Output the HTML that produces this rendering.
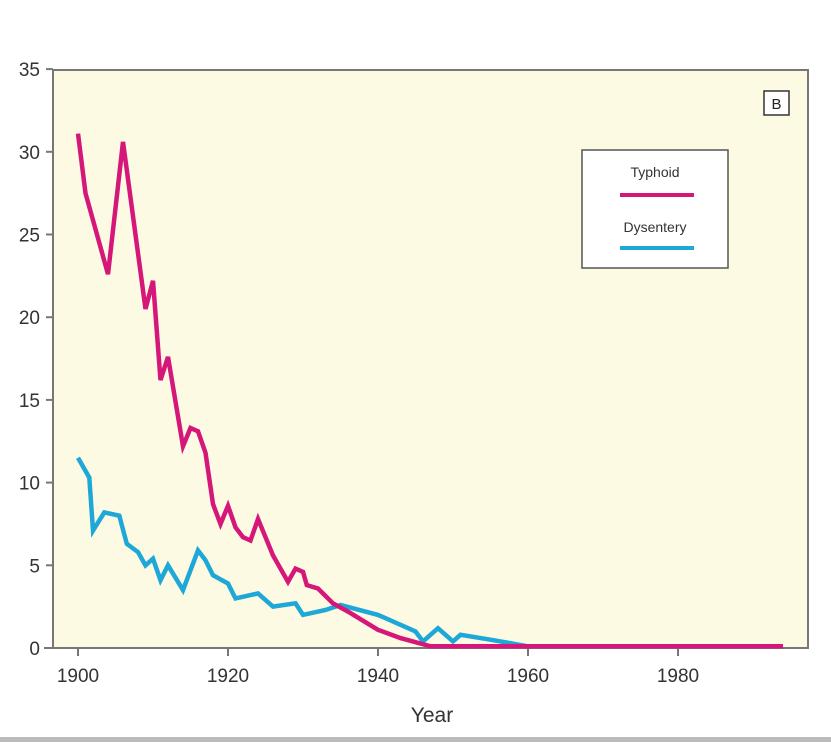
<!DOCTYPE html><html><head><style>body{margin:0;background:#fff;width:831px;height:742px;overflow:hidden;font-family:"Liberation Sans",sans-serif}</style></head><body>
<svg width="831" height="742" xmlns="http://www.w3.org/2000/svg">
<rect x="53" y="70" width="755" height="578" fill="#fdfae4" stroke="#777" stroke-width="2"/>
<line x1="44" y1="648" x2="808" y2="648" stroke="#777" stroke-width="2"/>
<g id="ticks" stroke="#777" stroke-width="2"></g>
<g id="lab" font-size="19" fill="#333"></g>
<polyline id="dys" fill="none" stroke="#1ea8d8" stroke-width="4.5" stroke-linejoin="miter"/>
<polyline id="typ" fill="none" stroke="#d6177a" stroke-width="4.5" stroke-linejoin="miter"/>
<rect x="582" y="150" width="146" height="118" fill="#fff" stroke="#555" stroke-width="1.5"/>
<text x="655" y="177" font-size="14" text-anchor="middle" fill="#333">Typhoid</text>
<line x1="620" y1="195" x2="694" y2="195" stroke="#d6177a" stroke-width="4"/>
<text x="655" y="232" font-size="14" text-anchor="middle" fill="#333">Dysentery</text>
<line x1="620" y1="248" x2="694" y2="248" stroke="#1ea8d8" stroke-width="4"/>
<rect x="764" y="91" width="25" height="24" fill="#fff" stroke="#333" stroke-width="1.5"/>
<text x="776.5" y="109" font-size="15" text-anchor="middle" fill="#222">B</text>
<text x="432" y="722" font-size="21" text-anchor="middle" fill="#333">Year</text>
<rect x="0" y="737" width="831" height="5" fill="#bbb"/>
</svg>
<script>
var X=function(y){return 78+(y-1900)*7.5},Y=function(v){return 648-v*16.54};
var t=[[1900,31.1],[1901,27.5],[1904,22.6],[1906,30.6],[1909,20.5],[1910,22.2],[1911,16.2],[1912,17.6],[1914,12.2],[1915,13.3],[1916,13.1],[1917,11.8],[1918,8.7],[1919,7.5],[1920,8.6],[1921,7.3],[1922,6.7],[1923,6.5],[1924,7.8],[1925,6.7],[1926,5.6],[1928,4.0],[1929,4.8],[1930,4.6],[1930.5,3.8],[1932,3.6],[1934,2.7],[1936,2.2],[1940,1.1],[1943,0.6],[1947,0.1],[1994,0.1]];
var d=[[1900,11.5],[1901.5,10.3],[1902,7.1],[1903.5,8.2],[1905.5,8.0],[1906.5,6.3],[1908,5.8],[1909,5.0],[1910,5.4],[1911,4.1],[1912,5.0],[1914,3.5],[1916,5.9],[1917,5.3],[1918,4.4],[1920,3.9],[1921,3.0],[1924,3.3],[1926,2.5],[1929,2.7],[1930,2.0],[1933,2.3],[1935,2.6],[1940,2.0],[1943,1.4],[1945,1.0],[1946,0.4],[1948,1.2],[1950,0.4],[1951,0.8],[1955,0.5],[1960,0.1],[1994,0.1]];
function p(a){return a.map(function(q){return X(q[0]).toFixed(1)+","+Y(q[1]).toFixed(1)}).join(" ")}
document.getElementById("typ").setAttribute("points",p(t));
document.getElementById("dys").setAttribute("points",p(d));
var NS="http://www.w3.org/2000/svg",tk=document.getElementById("ticks"),lb=document.getElementById("lab");
function el(n,a,par,txt){var e=document.createElementNS(NS,n);for(var k in a)e.setAttribute(k,a[k]);if(txt)e.textContent=txt;par.appendChild(e)}
for(var v=0;v<=35;v+=5){var y=Y(v);el("line",{x1:46,y1:y,x2:53,y2:y},tk);el("text",{x:40,y:y+7,"text-anchor":"end"},lb,String(v))}
for(var yr=1900;yr<=1980;yr+=20){var x=X(yr);el("line",{x1:x,y1:648,x2:x,y2:656},tk);el("text",{x:x,y:682,"text-anchor":"middle"},lb,String(yr))}
</script>
</body></html>
